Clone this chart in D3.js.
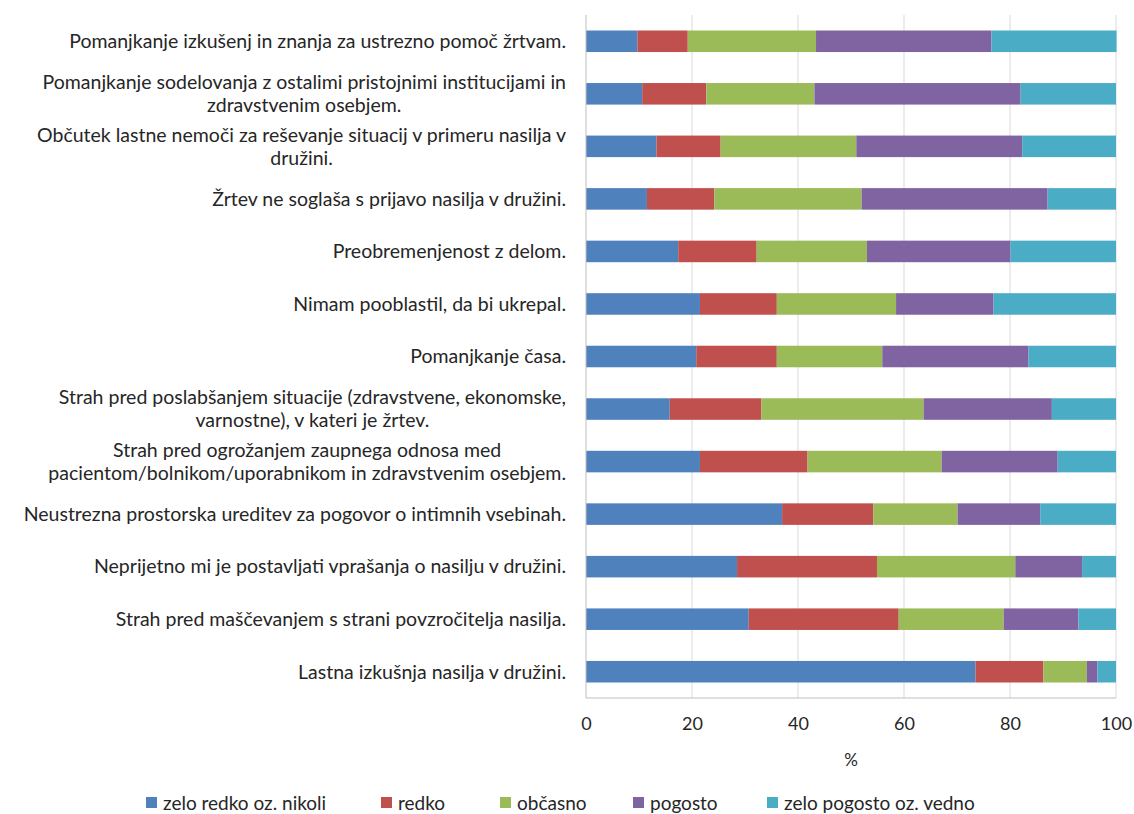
<!DOCTYPE html>
<html><head><meta charset="utf-8">
<script src="https://cdn.jsdelivr.net/npm/d3@7"></script>
<style>
body{margin:0;background:#fff;}
text{font-family:Lato,"Noto Sans",sans-serif;fill:#262626;}
</style></head>
<body><svg id="c" width="1134" height="814"></svg>
<script>
const categories = [
 "Pomanjkanje izkušenj in znanja za ustrezno pomoč žrtvam.",
 "Pomanjkanje sodelovanja z ostalimi pristojnimi institucijami in\nzdravstvenim osebjem.",
 "Občutek lastne nemoči za reševanje situacij v primeru nasilja v\ndružini.",
 "Žrtev ne soglaša s prijavo nasilja v družini.",
 "Preobremenjenost z delom.",
 "Nimam pooblastil, da bi ukrepal.",
 "Pomanjkanje časa.",
 "Strah pred poslabšanjem situacije (zdravstvene, ekonomske,\nvarnostne), v kateri je žrtev.",
 "Strah pred ogrožanjem zaupnega odnosa med\npacientom/bolnikom/uporabnikom in zdravstvenim osebjem.",
 "Neustrezna prostorska ureditev za pogovor o intimnih vsebinah.",
 "Neprijetno mi je postavljati vprašanja o nasilju v družini.",
 "Strah pred maščevanjem s strani povzročitelja nasilja.",
 "Lastna izkušnja nasilja v družini."
];
const seriesNames = ["zelo redko oz. nikoli","redko","občasno","pogosto","zelo pogosto oz. vedno"];
const zeloRedko   = [9.7, 10.6, 13.3, 11.5, 17.4, 21.5, 20.8, 15.8, 21.5, 37.0, 28.5, 30.7, 73.5];
const redko       = [9.5, 12.1, 12.1, 12.7, 14.8, 14.5, 15.2, 17.3, 20.3, 17.2, 26.4, 28.3, 12.8];
const obcasno     = [24.2, 20.4, 25.6, 27.8, 20.8, 22.5, 19.9, 30.6, 25.3, 15.9, 26.1, 19.8, 8.2];
const pogosto     = [33.1, 38.9, 31.3, 35.1, 27.1, 18.4, 27.6, 24.2, 21.9, 15.6, 12.6, 14.1, 2.0];
const zeloPogosto = [23.6, 18.0, 17.7, 12.9, 19.9, 23.1, 16.5, 12.1, 11.0, 14.3, 6.4, 7.1, 3.5];
const xTicks = [0, 20, 40, 60, 80, 100];
const axisTitle = "%";
const colors = ["#4F81BD","#C0504D","#9BBB59","#8064A2","#4BACC6"];

const seriesValues = [zeloRedko, redko, obcasno, pogosto, zeloPogosto];
const rows = categories.map((c,i)=>{const o={cat:c}; seriesNames.forEach((s,j)=>o[s]=seriesValues[j][i]); return o;});
const stack = d3.stack().keys(seriesNames)(rows);

const svg = d3.select("#c");
const x = d3.scaleLinear().domain([0,100]).range([586,1116]);
const y = d3.scaleBand().domain(categories).range([15,698]).paddingInner(0.59).paddingOuter(0.295);

// gridlines
svg.append("g").selectAll("line").data(xTicks.filter(t=>t>0)).join("line")
  .attr("x1",d=>x(d)).attr("x2",d=>x(d)).attr("y1",15).attr("y2",698)
  .attr("stroke","#D9D9D9").attr("stroke-width",1);

// bars
svg.append("g").selectAll("g").data(stack).join("g")
  .attr("fill",(d,i)=>colors[i])
  .selectAll("rect").data(d=>d).join("rect")
  .attr("x",d=>x(d[0])).attr("width",d=>x(d[1])-x(d[0]))
  .attr("y",d=>y(d.data.cat)).attr("height",y.bandwidth());

// axes lines
svg.append("line").attr("x1",x(0)).attr("x2",x(0)).attr("y1",15).attr("y2",698).attr("stroke","#BFBFBF");
svg.append("line").attr("x1",x(0)).attr("x2",x(100)).attr("y1",698).attr("y2",698).attr("stroke","#BFBFBF");

// x tick labels
const xa = svg.append("g").attr("transform","translate(0,698)")
  .call(d3.axisBottom(x).tickValues(xTicks).tickSize(0).tickPadding(19));
xa.select(".domain").remove();
xa.selectAll("text").style("font-size","18px").style("font-family","Lato,sans-serif").attr("fill","#262626");

svg.append("text").attr("x",851).attr("y",766).attr("text-anchor","middle").style("font-size","17px").text(axisTitle);

// category labels
const lh = 23;
categories.forEach(c=>{
  const lines = c.split("\n");
  const g = svg.append("g");
  const cy = y(c)+y.bandwidth()/2;
  const ts = lines.map((l,k)=>g.append("text").style("font-size","19.5px")
      .attr("y", cy + (k-(lines.length-1)/2)*lh).attr("dy","0.35em").text(l));
  const w = d3.max(ts, t=>t.node().getComputedTextLength());
  const cx = 566 - w/2;
  ts.forEach(t=>t.attr("x",cx).attr("text-anchor","middle"));
});

// legend
const legX = [146, 381, 500, 633, 767];
const lg = svg.append("g");
seriesNames.forEach((s,i)=>{
  lg.append("rect").attr("x",legX[i]).attr("y",797).attr("width",11).attr("height",11).attr("fill",colors[i]);
  lg.append("text").attr("x",legX[i]+17).attr("y",803).attr("dy","0.35em").style("font-size","19px").text(s);
});
</script></body></html>
